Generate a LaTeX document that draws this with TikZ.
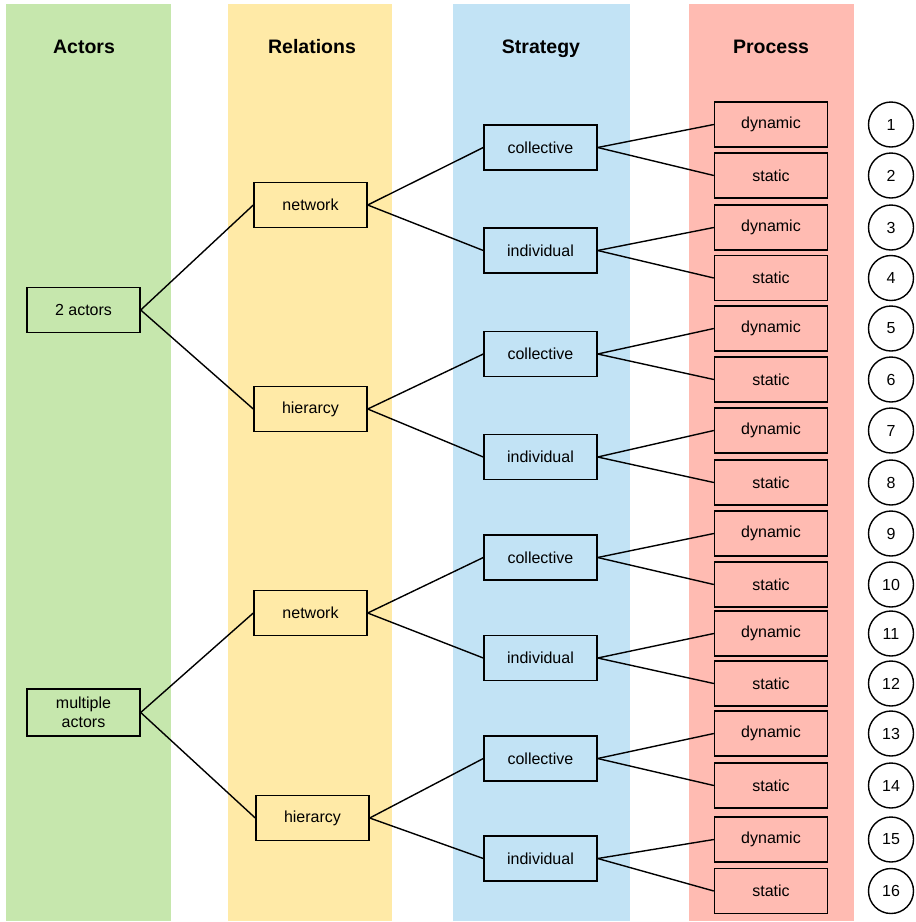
\documentclass[tikz,border=0pt]{standalone}
\usepackage{fontspec}
\setmainfont{Liberation Sans}
\begin{document}
\begin{tikzpicture}[x=1pt,y=-1pt,
  every node/.style={font=\fontsize{16}{19}\selectfont},
  header/.style={font=\fontsize{19.5}{23}\selectfont\bfseries,anchor=base},
  box/.style={draw=black,line width=1.4pt,minimum width=113pt,minimum height=45pt,inner sep=0pt,align=center},
  actorbox/.style={box,fill=actcol},
  relbox/.style={box,fill=relcol},
  stratbox/.style={box,fill=stratcol},
  procbox/.style={box,fill=proccol},
  numcirc/.style={circle,draw=black,line width=1.4pt,minimum size=45pt,inner sep=0pt},
  link/.style={line width=1.4pt}]
\definecolor{actcol}{HTML}{C6E7AD}
\definecolor{relcol}{HTML}{FFEAA7}
\definecolor{stratcol}{HTML}{C2E3F5}
\definecolor{proccol}{HTML}{FFBBB2}
\useasboundingbox (0,0) rectangle (916,922);
\fill[white] (0,0) rectangle (916,922);

% column bands
\fill[actcol]   (6,4)   rectangle (171,921);
\fill[relcol]   (228,4) rectangle (392,921);
\fill[stratcol] (453,4) rectangle (630,921);
\fill[proccol]  (689,4) rectangle (854,921);

\node[header] (hA) at (84,53.5)  {Actors};
\node[header] (hR) at (312,53.5) {Relations};
\node[header] (hS) at (541,53.5) {Strategy};
\node[header] (hP) at (771,53.5) {Process};

% actors
\node[actorbox] (a1) at (83.5,310)   {2 actors};
\node[actorbox,minimum height=47pt] (a2) at (83.5,712.5) {multiple\\actors};

% relations
\node[relbox] (r1) at (310.5,205) {network};
\node[relbox] (r2) at (310.5,409) {hierarcy};
\node[relbox] (r3) at (310.5,613) {network};
\node[relbox] (r4) at (312.5,818) {hierarcy};

% strategies
\node[stratbox] (s1) at (540.5,147.5) {collective};
\node[stratbox] (s2) at (540.5,250.5) {individual};
\node[stratbox] (s3) at (540.5,354)   {collective};
\node[stratbox] (s4) at (540.5,457)   {individual};
\node[stratbox] (s5) at (540.5,557.5) {collective};
\node[stratbox] (s6) at (540.5,658)   {individual};
\node[stratbox] (s7) at (540.5,758.5) {collective};
\node[stratbox] (s8) at (540.5,858.5) {individual};

% processes and numbering
\foreach \i/\y/\t in {1/124.5/dynamic,2/175.5/static,3/227.5/dynamic,4/278/static,
                      5/328.5/dynamic,6/379.5/static,7/430.5/dynamic,8/482.5/static,
                      9/533.5/dynamic,10/584.5/static,11/633.5/dynamic,12/683.5/static,
                      13/733.5/dynamic,14/785.5/static,15/839.5/dynamic,16/891/static}{
  \node[procbox] (p\i) at (771,\y) {\t};
  \node[numcirc] (n\i) at (891,\y) {\i};
}

% connectors
\foreach \a/\b in {a1/r1,a1/r2,a2/r3,a2/r4,
                   r1/s1,r1/s2,r2/s3,r2/s4,r3/s5,r3/s6,r4/s7,r4/s8}{
  \draw[link] (\a.east) -- (\b.west);
}
\foreach \s [evaluate=\s as \d using int(2*\s-1), evaluate=\s as \e using int(2*\s)] in {1,...,8}{
  \draw[link] (s\s.east) -- (p\d.west);
  \draw[link] (s\s.east) -- (p\e.west);
}
\end{tikzpicture}
\end{document}
